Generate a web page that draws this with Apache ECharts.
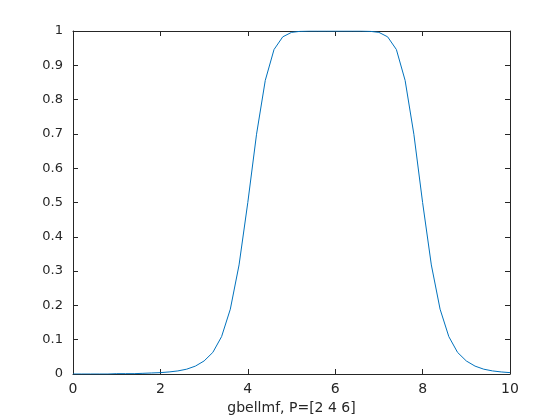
<!DOCTYPE html>
<html>
<head>
<meta charset="utf-8">
<script src="https://cdn.jsdelivr.net/npm/echarts@6/dist/echarts.min.js"></script>
<style>
  html, body { margin: 0; padding: 0; background: #fff; }
  #chart { width: 560px; height: 420px; }
</style>
</head>
<body>
<div id="chart"></div>
<script>
// values, x step 0.2
var xs = [0, 0.2, 0.4, 0.6, 0.8, 1, 1.2, 1.4, 1.6, 1.8, 2, 2.2, 2.4, 2.6, 2.8, 3, 3.2, 3.4, 3.6, 3.8,
  4, 4.2, 4.4, 4.6, 4.8, 5, 5.2, 5.4, 5.6, 5.8, 6, 6.2, 6.4, 6.6, 6.8, 7, 7.2, 7.4, 7.6, 7.8,
  8, 8.2, 8.4, 8.6, 8.8, 9, 9.2, 9.4, 9.6, 9.8, 10]
var ys = [0, 0, 0, 0, 0, 0.001, 0.001, 0.001, 0.002, 0.003, 0.004, 0.006, 0.009, 0.014, 0.023, 0.038, 0.063, 0.109, 0.189, 0.318,
  0.5, 0.699, 0.856, 0.946, 0.983, 0.996, 0.999, 1, 1, 1, 1, 1, 1, 1, 0.999, 0.996, 0.983, 0.946, 0.856, 0.699,
  0.5, 0.318, 0.189, 0.109, 0.063, 0.038, 0.023, 0.014, 0.009, 0.006, 0.004]
var xTicks = [0, 2, 4, 6, 8, 10]
var xLabel = 'gbellmf, P=[2 4 6]'

var chart = echarts.init(document.getElementById('chart'))
var axisColor = '#262626'
var font = 'DejaVu Sans'

function frameAxis(extra) {
  var base = {
    type: 'value',
    axisLine: { show: true, onZero: false, lineStyle: { color: axisColor, width: 1 } },
    axisTick: { show: true, inside: true, length: 5, lineStyle: { color: axisColor } },
    splitLine: { show: false }
  }
  return Object.assign(base, extra)
}

chart.setOption({
  animation: false,
  grid: { left: 73, right: 50, top: 31, bottom: 46 },
  xAxis: [
    frameAxis({
      min: 0, max: 10, interval: 2, position: 'bottom',
      name: xLabel, nameLocation: 'middle', nameGap: 27,
      nameTextStyle: { color: axisColor, fontSize: 14, fontFamily: font },
      axisLabel: { color: axisColor, fontSize: 14, fontFamily: font, margin: 8,
        formatter: function (v) { return xTicks.indexOf(v) >= 0 ? String(v) : '' } }
    }),
    frameAxis({ min: 0, max: 10, interval: 2, position: 'top', axisLabel: { show: false } })
  ],
  yAxis: [
    frameAxis({
      min: 0, max: 1, interval: 0.1, position: 'left',
      axisLabel: { color: axisColor, fontSize: 13, fontFamily: font, margin: 10,
        formatter: function (v) { return String(Math.round(v * 10) / 10) } }
    }),
    frameAxis({ min: 0, max: 1, interval: 0.1, position: 'right', axisLabel: { show: false } })
  ],
  series: [
    {
      type: 'line',
      data: xs.map(function (x, i) { return [x, ys[i]] }),
      showSymbol: false,
      lineStyle: { color: '#0072BD', width: 1 },
      z: 1
    }
  ]
})
</script>
</body>
</html>
